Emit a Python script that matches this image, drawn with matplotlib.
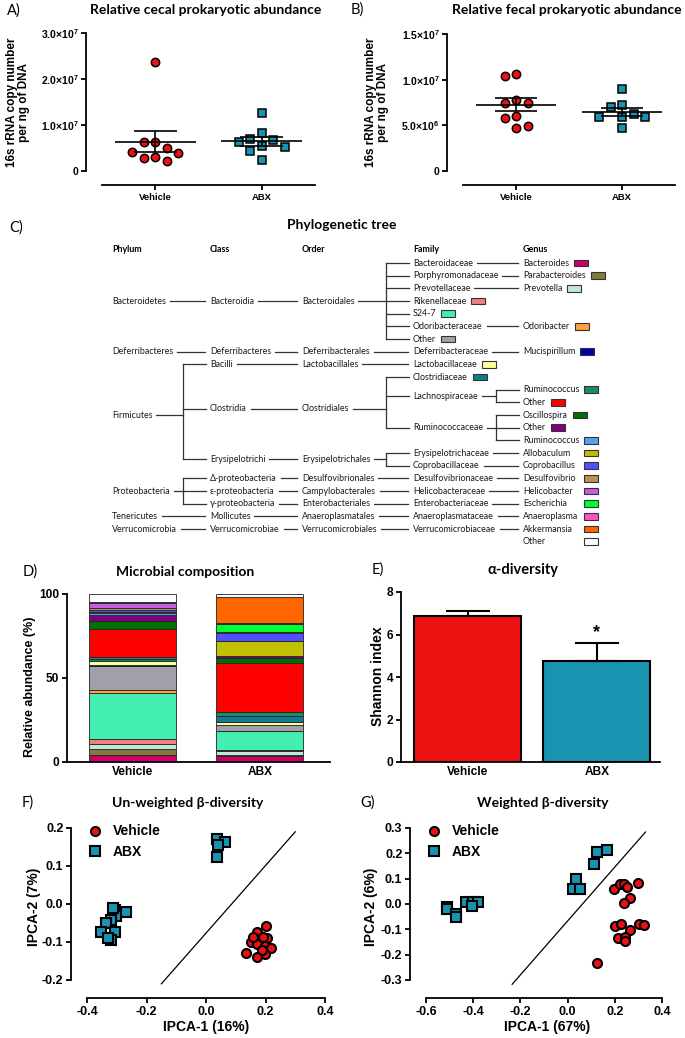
import numpy as np
import matplotlib
matplotlib.use('Agg')
from matplotlib import pyplot as plt
from matplotlib.lines import Line2D
from matplotlib.patches import Rectangle

plt.rcParams['font.family'] = ['Liberation Sans', 'DejaVu Sans']
plt.rcParams['font.weight'] = 'bold'
plt.rcParams['axes.unicode_minus'] = False
plt.rcParams['mathtext.fontset'] = 'custom'
plt.rcParams['mathtext.bf'] = 'Liberation Sans:bold'
plt.rcParams['mathtext.rm'] = 'Liberation Sans:bold'

W, H = 685, 1038
RED = '#ee1111'
TEAL = '#1a93b0'
SOFT = ['Lato', 'DejaVu Sans']

# ---------------- data ----------------
groups = ['Vehicle', 'ABX']

cecal_vehicle = [2.37e7, 6.25e6, 6.25e6, 5.1e6, 4.1e6, 4.0e6, 3.1e6, 2.9e6, 2.2e6]
cecal_abx = [1.27e7, 8.35e6, 6.9e6, 6.7e6, 6.2e6, 5.4e6, 5.2e6, 4.4e6, 2.5e6]
fecal_vehicle = [1.06e7, 1.044e7, 7.8e6, 7.5e6, 7.5e6, 5.97e6, 5.75e6, 4.94e6, 4.72e6]
fecal_abx = [8.97e6, 7.18e6, 6.96e6, 6.2e6, 5.9e6, 5.9e6, 5.9e6, 4.69e6]

# phylum, class, order, family, genus (one row per coloured taxon)
taxa = [
    ('Bacteroidetes', 'Bacteroidia', 'Bacteroidales', 'Bacteroidaceae', 'Bacteroides'),
    ('Bacteroidetes', 'Bacteroidia', 'Bacteroidales', 'Porphyromonadaceae', 'Parabacteroides'),
    ('Bacteroidetes', 'Bacteroidia', 'Bacteroidales', 'Prevotellaceae', 'Prevotella'),
    ('Bacteroidetes', 'Bacteroidia', 'Bacteroidales', 'Rikenellaceae', ''),
    ('Bacteroidetes', 'Bacteroidia', 'Bacteroidales', 'S24-7', ''),
    ('Bacteroidetes', 'Bacteroidia', 'Bacteroidales', 'Odoribacteraceae', 'Odoribacter'),
    ('Bacteroidetes', 'Bacteroidia', 'Bacteroidales', 'Other', ''),
    ('Deferribacteres', 'Deferribacteres', 'Deferribacterales', 'Deferribacteraceae', 'Mucispirillum'),
    ('Firmicutes', 'Bacilli', 'Lactobacillales', 'Lactobacillaceae', ''),
    ('Firmicutes', 'Clostridia', 'Clostridiales', 'Clostridiaceae', ''),
    ('Firmicutes', 'Clostridia', 'Clostridiales', 'Lachnospiraceae', 'Ruminococcus'),
    ('Firmicutes', 'Clostridia', 'Clostridiales', 'Lachnospiraceae', 'Other'),
    ('Firmicutes', 'Clostridia', 'Clostridiales', 'Ruminococcaceae', 'Oscillospira'),
    ('Firmicutes', 'Clostridia', 'Clostridiales', 'Ruminococcaceae', 'Other'),
    ('Firmicutes', 'Clostridia', 'Clostridiales', 'Ruminococcaceae', 'Ruminococcus'),
    ('Firmicutes', 'Erysipelotrichi', 'Erysipelotrichales', 'Erysipelotrichaceae', 'Allobaculum'),
    ('Firmicutes', 'Erysipelotrichi', 'Erysipelotrichales', 'Coprobacillaceae', 'Coprobacillus'),
    ('Proteobacteria', 'Δ-proteobacteria', 'Desulfovibrionales', 'Desulfovibrionaceae', 'Desulfovibrio'),
    ('Proteobacteria', 'ε-proteobacteria', 'Campylobacterales', 'Helicobacteraceae', 'Helicobacter'),
    ('Proteobacteria', 'γ-proteobacteria', 'Enterobacteriales', 'Enterobacteriaceae', 'Escherichia'),
    ('Tenericutes', 'Mollicutes', 'Anaeroplasmatales', 'Anaeroplasmataceae', 'Anaeroplasma'),
    ('Verrucomicrobia', 'Verrucomicrobiae', 'Verrucomicrobiales', 'Verrucomicrobiaceae', 'Akkermansia'),
    ('', '', '', '', 'Other'),
]
taxa_colors = ['#cc0066', '#857a3c', '#bfe8d8', '#f08080', '#44eeb0', '#ffa040', '#a0a0a8',
               '#0000b0', '#ffff99', '#147a90', '#1a8c6a', '#ff0000', '#007000', '#800080',
               '#5aa0f0', '#c0c000', '#5050ff', '#c09050', '#c060e0', '#00ff30', '#ff50d0',
               '#ff6600', '#ffffff']
tree_levels = ['Phylum', 'Class', 'Order', 'Family', 'Genus']

comp_vehicle = [4.2, 3.8, 3.0, 2.8, 27.5, 1.4, 14.3, 0.8, 2.2, 1.4, 1.2, 16.8, 4.6, 3.4,
                1.0, 0.8, 1.2, 1.2, 3.0, 0.2, 0.2, 0.3, 4.8]
comp_abx = [3.4, 1.0, 2.0, 0.5, 11.3, 0.2, 3.4, 0.2, 2.0, 3.6, 2.0, 29.1, 3.2, 1.0,
            0.2, 9.0, 4.8, 0.2, 0.2, 5.0, 0.2, 15.9, 1.6]

shannon_mean = [6.85, 4.77]
shannon_sem = [0.27, 0.85]

unw_vehicle_x = [0.200, 0.173, 0.204, 0.150, 0.173, 0.198, 0.218, 0.136, 0.198, 0.170, 0.192, 0.159, 0.187]
unw_vehicle_y = [-0.059, -0.073, -0.090, -0.099, -0.105, -0.110, -0.116, -0.128, -0.131, -0.140, -0.086, -0.086, -0.121]
unw_abx_x = [0.038, 0.063, 0.041, 0.038, -0.307, -0.268, -0.301, -0.320, -0.335, -0.352, -0.307, -0.318, -0.329, -0.312]
unw_abx_y = [0.171, 0.163, 0.154, 0.123, -0.015, -0.022, -0.031, -0.042, -0.051, -0.073, -0.073, -0.095, -0.090, -0.011]
unw_line_x = [-0.15, 0.30]
unw_line_y = [-0.21, 0.19]

w_vehicle_x = [0.195, 0.220, 0.237, 0.251, 0.298, 0.266, 0.237, 0.202, 0.227, 0.301, 0.322, 0.263, 0.213, 0.244, 0.244, 0.124]
w_vehicle_y = [0.059, 0.078, 0.080, 0.069, 0.082, 0.023, 0.003, -0.087, -0.079, -0.079, -0.083, -0.102, -0.133, -0.129, -0.148, -0.232]
w_abx_x = [0.124, 0.167, 0.113, 0.036, 0.022, 0.051, -0.512, -0.509, -0.474, -0.474, -0.430, -0.399, -0.378, -0.406]
w_abx_y = [0.204, 0.212, 0.159, 0.098, 0.060, 0.060, -0.010, -0.021, -0.039, -0.052, 0.007, 0.007, 0.007, -0.006]
w_line_x = [-0.235, 0.33]
w_line_y = [-0.317, 0.284]


# ---------------- helpers ----------------
fig = plt.figure(figsize=(W / 100, H / 100), dpi=100)


def add_ax(x0, y0, x1, y1):
    return fig.add_axes([x0 / W, 1 - y1 / H, (x1 - x0) / W, (y1 - y0) / H])


def style(ax, size, lw=1.3):
    for s in ['top', 'right']:
        ax.spines[s].set_visible(False)
    for s in ['left', 'bottom']:
        ax.spines[s].set_linewidth(lw)
    ax.tick_params(width=lw, length=3.5, labelsize=size, pad=2)


def swarm(values, px_x, px_y, dist=11.0, step=11.5):
    placed = []
    offs = np.zeros(len(values))
    for i in np.argsort(values)[::-1]:
        y = values[i] * px_y
        found = None
        for k in range(30):
            for c in ([0] if k == 0 else [-k, k]):
                x = c * step
                if all((x - a) ** 2 + (y - b) ** 2 >= dist ** 2 for a, b in placed):
                    found = x
                    break
            if found is not None:
                break
        placed.append((found, y))
        offs[i] = found / px_x
    return offs


def sci_label(v, pos):
    if v == 0:
        return '0'
    e = int(np.floor(np.log10(v) + 1e-9))
    return f'{v / 10 ** e:.1f}×10$^{{\\mathbf{{{e}}}}}$'


over = fig.add_axes([0, 0, 1, 1])
over.set_xlim(0, W)
over.set_ylim(H, 0)
over.axis('off')


def label(x, y, s, **kw):
    return over.text(x, y, s, ha='center', va='center', **kw)


def dot_panel(box, ymax, yticks, veh, abx):
    ax = add_ax(*box)
    px_x = (box[2] - box[0]) / 2
    px_y = (box[3] - box[1]) / ymax
    for i, (vals, mk, col) in enumerate([(veh, 'o', RED), (abx, 's', TEAL)]):
        vals = np.array(vals)
        offs = swarm(vals, px_x, px_y)
        ax.plot(i + offs, vals, ls='none', marker=mk, ms=6, mfc=col, mec='black',
                mew=1.1, zorder=3, clip_on=False)
        m = vals.mean()
        sem = vals.std(ddof=1) / np.sqrt(len(vals))
        ax.hlines(m, i - 0.38, i + 0.38, color='k', lw=1.2, zorder=4)
        ax.vlines(i, m - sem, m + sem, color='k', lw=1.2, zorder=4)
        ax.hlines([m - sem, m + sem], i - 0.2, i + 0.2, color='k', lw=1.2, zorder=4)
    ax.set_xlim(-0.5, 1.5)
    ax.set_ylim(0, ymax)
    style(ax, 7)
    ax.spines['left'].set_position(('outward', 11.5))
    ax.spines['bottom'].set_position(('outward', 10))
    ax.set_yticks(yticks)
    ax.yaxis.set_major_formatter(plt.FuncFormatter(sci_label))
    ax.set_xticks([0, 1], groups)
    ax.tick_params(axis='x', labelsize=6.8)
    ax.tick_params(axis='y', labelsize=7.5)
    return ax


# ---------------- A / B ----------------
dot_panel((102, 33, 315, 171), 3e7, [0, 1e7, 2e7, 3e7], cecal_vehicle, cecal_abx)
dot_panel((463, 34, 675, 171), 1.5e7, [0, 5e6, 1e7, 1.5e7], fecal_vehicle, fecal_abx)
label(14, 11, 'A)', family=SOFT, weight='normal', fontsize=10.5)
label(357, 10, 'B)', family=SOFT, weight='normal', fontsize=10.5)
label(206, 10, 'Relative cecal prokaryotic abundance', family=SOFT, fontsize=10)
label(567, 10, 'Relative fecal prokaryotic abundance', family=SOFT, fontsize=10)
ylab = '16s rRNA copy number\nper ng of DNA'
label(18, 102, ylab, rotation=90, fontsize=8.5, linespacing=1.1)
label(377, 102, ylab, rotation=90, fontsize=8.5, linespacing=1.1)

# ---------------- C tree ----------------
TREE_FS = 6.4
label(16, 228, 'C)', family=SOFT, weight='normal', fontsize=10.5)
label(342, 225, 'Phylogenetic tree', family=SOFT, fontsize=10)
col_x = [112, 210, 302, 413, 523]
row0, drow = 263, 12.67
for lx, name in zip(col_x, tree_levels):
    over.text(lx, 250, name, ha='left', va='center', family=SOFT, weight='bold', fontsize=TREE_FS)

nodes = {}
for r, path in enumerate(taxa):
    for lv in range(5):
        if path[lv]:
            nodes.setdefault(path[:lv + 1], []).append(r)
node_y = {k: row0 + drow * (min(v) + max(v)) / 2 for k, v in nodes.items()}
node_txt = {}
for k, y in node_y.items():
    node_txt[k] = over.text(col_x[len(k) - 1], y, k[-1], ha='left', va='center',
                            family=SOFT, weight='normal', fontsize=TREE_FS, color='#1a1a1a')

fig.canvas.draw()
rend = fig.canvas.get_renderer()
inv = over.transData.inverted()
ext = {}
for k, t in node_txt.items():
    bb = t.get_window_extent(rend)
    (x0, _), (x1, _) = inv.transform([[bb.x0, bb.y0], [bb.x1, bb.y1]])
    ext[k] = (x0, x1)

lc = dict(color='#333333', lw=0.9)
for k in nodes:
    lv = len(k) - 1
    if lv == 4:
        continue
    kids = sorted([c for c in nodes if len(c) == lv + 2 and c[:lv + 1] == k], key=lambda c: node_y[c])
    if not kids:
        continue
    y = node_y[k]
    end = ext[k][1]
    if len(kids) == 1 and abs(node_y[kids[0]] - y) < 0.1:
        over.plot([end + 4, ext[kids[0]][0] - 5], [y, y], **lc)
        continue
    bx = max(col_x[lv + 1] - 27, end + 9)
    over.plot([end + 4, bx], [y, y], **lc)
    over.plot([bx, bx], [node_y[kids[0]], node_y[kids[-1]]], **lc)
    for c in kids:
        over.plot([bx, ext[c][0] - 4], [node_y[c], node_y[c]], **lc)

leaf_keys = []
for path in taxa:
    lv = max(i for i in range(5) if path[i])
    leaf_keys.append(path[:lv + 1])
aligned = max(ext[k][1] for k in leaf_keys[14:]) + 5
for r, (k, col) in enumerate(zip(leaf_keys, taxa_colors)):
    bx = aligned if r >= 14 else ext[k][1] + 5
    over.add_patch(Rectangle((bx, node_y[k] - 3.4), 14, 6.8, facecolor=col,
                             edgecolor='#333333', lw=0.8))

# ---------------- D ----------------
axd = add_ax(67, 594, 330, 762)
for i, comp in enumerate([comp_vehicle, comp_abx]):
    bottom = 0
    for v, col in zip(comp, taxa_colors):
        axd.bar(i, v, bottom=bottom, width=0.68, color=col, edgecolor='#222222', lw=0.6)
        bottom += v
axd.set_xlim(-0.51, 1.55)
axd.set_ylim(0, 100)
style(axd, 8.6)
axd.set_yticks([0, 50, 100])
axd.set_xticks([0, 1], groups)
axd.tick_params(axis='x', length=0, pad=3)
label(30, 687, 'Relative abundance (%)', rotation=90, fontsize=9)
label(30, 572, 'D)', family=SOFT, weight='normal', fontsize=10.5)
label(185, 572, 'Microbial composition', family=SOFT, fontsize=10)

# ---------------- E ----------------
axe = add_ax(401, 592, 660, 762)
axe.bar([0, 1], shannon_mean, width=0.83, color=[RED, TEAL], edgecolor='black', lw=1.5)
axe.errorbar([0, 1], shannon_mean, yerr=[[0, 0], shannon_sem], fmt='none', ecolor='black',
             elinewidth=1.5, capsize=16, capthick=1.5)
axe.text(1, shannon_mean[1] + shannon_sem[1] + 0.05, '*', ha='center', va='bottom', fontsize=13)
axe.set_xlim(-0.515, 1.49)
axe.set_ylim(0, 8)
style(axe, 8.6)
axe.set_yticks([0, 2, 4, 6, 8])
axe.set_xticks([0, 1], groups)
axe.tick_params(axis='x', length=0, pad=3)
label(378, 676, 'Shannon index', rotation=90, fontsize=10)
label(378, 570, 'E)', family=SOFT, weight='normal', fontsize=10.5)
label(523, 570, 'α-diversity', family=SOFT, fontsize=10.5)


# ---------------- F / G ----------------
def pca_panel(box, xlim, xticks, ylim, yticks, vx, vy, ax_, ay_, lx, ly):
    ax = add_ax(*box)
    ax.plot(lx, ly, color='black', lw=0.9, clip_on=False)
    ax.plot(vx, vy, ls='none', marker='o', ms=6.5, mfc=RED, mec='black', mew=1.5, clip_on=False)
    ax.plot(ax_, ay_, ls='none', marker='s', ms=6.5, mfc=TEAL, mec='black', mew=1.5, clip_on=False)
    ax.set_xlim(*xlim)
    ax.set_ylim(*ylim)
    style(ax, 9)
    ax.spines['left'].set_position(('outward', 11.5))
    ax.spines['bottom'].set_position(('outward', 13))
    ax.set_xticks(xticks)
    ax.set_yticks(yticks)
    ax.xaxis.set_major_formatter(plt.FuncFormatter(lambda v, p: f'{v:.1f}'))
    ax.yaxis.set_major_formatter(plt.FuncFormatter(lambda v, p: f'{v:.1f}'))
    handles = [Line2D([], [], ls='none', marker='o', ms=6.5, mfc=RED, mec='black', mew=1.5),
               Line2D([], [], ls='none', marker='s', ms=6.5, mfc=TEAL, mec='black', mew=1.5)]
    ax.legend(handles, groups, loc='upper left', bbox_to_anchor=(-0.02, 1.06), frameon=False,
              fontsize=10, handlelength=1.0, handletextpad=0.8, labelspacing=0.45,
              borderaxespad=0)
    return ax


pca_panel((87, 828, 325, 980), (-0.4, 0.4), np.arange(-0.4, 0.41, 0.2), (-0.2, 0.2),
          np.arange(-0.2, 0.21, 0.1), unw_vehicle_x, unw_vehicle_y, unw_abx_x, unw_abx_y,
          unw_line_x, unw_line_y)
pca_panel((426, 828, 662, 980), (-0.6, 0.4), np.arange(-0.6, 0.41, 0.2), (-0.3, 0.3),
          np.arange(-0.3, 0.31, 0.1), w_vehicle_x, w_vehicle_y, w_abx_x, w_abx_y,
          w_line_x, w_line_y)
label(28, 803, 'F)', family=SOFT, weight='normal', fontsize=10.5)
label(368, 803, 'G)', family=SOFT, weight='normal', fontsize=10.5)
label(188, 803, 'Un-weighted β-diversity', family=SOFT, fontsize=10)
label(543, 803, 'Weighted β-diversity', family=SOFT, fontsize=10)
label(34, 907, 'IPCA-2 (7%)', rotation=90, fontsize=10)
label(206, 1027, 'IPCA-1 (16%)', fontsize=10)
label(371, 907, 'IPCA-2 (6%)', rotation=90, fontsize=10)
label(547, 1027, 'IPCA-1 (67%)', fontsize=10)

fig.savefig('out.png', dpi=100)
